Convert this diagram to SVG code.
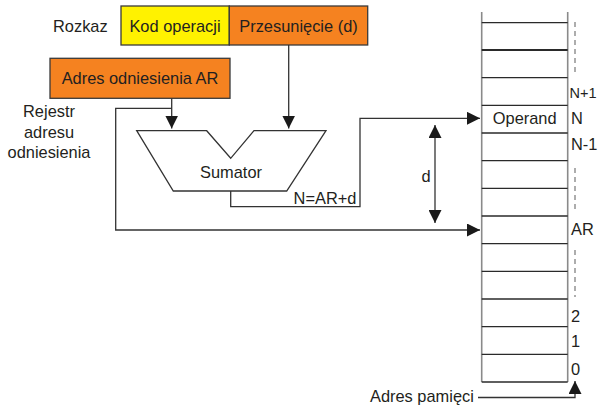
<svg xmlns="http://www.w3.org/2000/svg" width="598" height="407" viewBox="0 0 598 407">
<style>
text{font-family:"Liberation Sans",Arial,sans-serif;font-size:16.4px;fill:#231f20}
.box{stroke:#3a3a3a;stroke-width:1.3}
.ln{fill:none;stroke:#333;stroke-width:1.3}
.row{stroke:#2a2a2a;stroke-width:1.3}
.side{stroke:#8a8a8a;stroke-width:1.6}
.dash{stroke:#777;stroke-width:1.2;stroke-dasharray:5,4}
</style>
<defs>
<marker id="ah" viewBox="0 0 13 13" refX="13" refY="6.5" markerWidth="13" markerHeight="13" markerUnits="userSpaceOnUse" orient="auto-start-reverse">
<path d="M0,0 L13,6.5 L0,13 Z" fill="#1a1a1a"/>
</marker>
</defs>
<rect width="598" height="407" fill="#fff"/>

<g id="rozkaz">
<text x="53" y="32">Rozkaz</text>
</g>
<g id="kod">
<rect class="box" x="121" y="6" width="108.3" height="39" fill="#fff200"/>
<text x="175" y="32" text-anchor="middle">Kod operacji</text>
</g>
<g id="przes">
<rect class="box" x="229.3" y="6" width="138.4" height="39" fill="#f58220"/>
<text x="298.5" y="32" text-anchor="middle">Przesunięcie (d)</text>
</g>
<g id="ar">
<rect class="box" x="50" y="58.3" width="180" height="40" fill="#f58220"/>
<text x="140" y="84" text-anchor="middle">Adres odniesienia AR</text>
</g>
<g id="rejestr">
<text x="49" y="117" text-anchor="middle">Rejestr</text>
<text x="49" y="138" text-anchor="middle">adresu</text>
<text x="49" y="158" text-anchor="middle">odniesienia</text>
</g>
<g id="sumator">
<path class="ln" d="M136.7,130.7 L206.7,130.7 L230.7,158.3 L254,130.7 L326,130.7 L286.7,191 L173.3,191 Z"/>
<text x="231" y="178" text-anchor="middle">Sumator</text>
</g>

<g id="memory">
<line class="side" x1="481.7" y1="12" x2="481.7" y2="382"/>
<line class="side" x1="567.7" y1="12" x2="567.7" y2="382"/>
<g class="row">
<line x1="481.7" y1="22.7" x2="567.7" y2="22.7"/>
<line x1="481.7" y1="50" x2="567.7" y2="50" stroke-width="2.2"/>
<line x1="481.7" y1="77.7" x2="567.7" y2="77.7"/>
<line x1="481.7" y1="105.3" x2="567.7" y2="105.3"/>
<line x1="481.7" y1="133" x2="567.7" y2="133"/>
<line x1="481.7" y1="160.7" x2="567.7" y2="160.7"/>
<line x1="481.7" y1="188.3" x2="567.7" y2="188.3"/>
<line x1="481.7" y1="216" x2="567.7" y2="216"/>
<line x1="481.7" y1="243.7" x2="567.7" y2="243.7"/>
<line x1="481.7" y1="271.3" x2="567.7" y2="271.3"/>
<line x1="481.7" y1="299" x2="567.7" y2="299"/>
<line x1="481.7" y1="326.7" x2="567.7" y2="326.7"/>
<line x1="481.7" y1="354.3" x2="567.7" y2="354.3"/>
<line x1="481.7" y1="382" x2="567.7" y2="382"/>
</g>
<line class="dash" x1="575" y1="22" x2="575" y2="76"/>
<line class="dash" x1="575" y1="168" x2="575" y2="212"/>
<line class="dash" x1="575" y1="250" x2="575" y2="297"/>
<text x="524.7" y="124" text-anchor="middle">Operand</text>
<text x="569.5" y="97.5" style="font-size:14.5px">N+1</text>
<text x="571" y="124">N</text>
<text x="571" y="150">N-1</text>
<text x="571" y="235">AR</text>
<text x="571" y="322">2</text>
<text x="571" y="347">1</text>
<text x="571" y="375">0</text>
</g>

<g id="pamieci">
<text x="370" y="402">Adres pamięci</text>
</g>

<g id="connectors">
<path class="ln" d="M171.7,98.3 L171.7,128.5" marker-end="url(#ah)"/>
<path class="ln" d="M288.7,45 L288.7,128.5" marker-end="url(#ah)"/>
<path class="ln" d="M171.7,108.3 L115.7,108.3 L115.7,230 L480,230" marker-end="url(#ah)"/>
<path class="ln" d="M230.7,191 L230.7,206.7 L360,206.7 L360,118.3 L480,118.3" marker-end="url(#ah)"/>
<path class="ln" d="M435,125 L435,223" marker-start="url(#ah)" marker-end="url(#ah)"/>
<path class="ln" d="M478,397.5 L575,397.5 L575,381" marker-end="url(#ah)"/>
<text x="426" y="182" text-anchor="middle">d</text>
<text x="325" y="204" text-anchor="middle">N=AR+d</text>
</g>
</svg>
